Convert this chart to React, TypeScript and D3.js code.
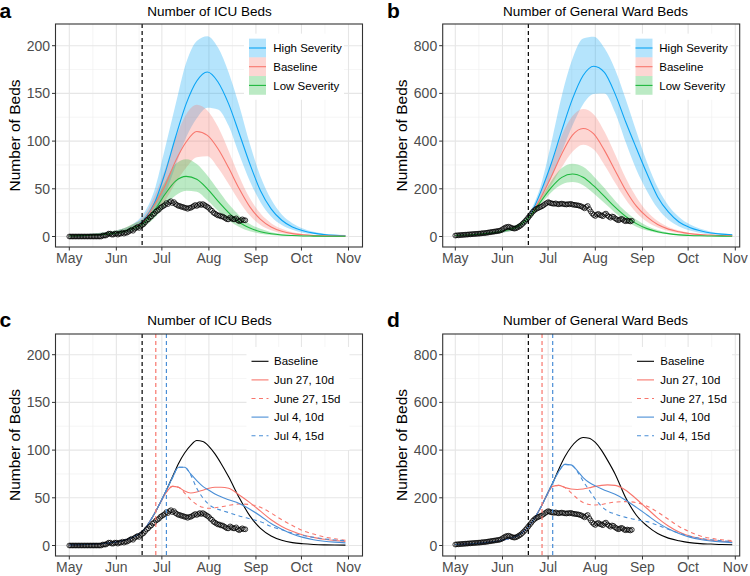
import React from "react";
import * as d3 from "d3";

const FONT = "'Liberation Sans', Arial, Helvetica, sans-serif";
const MAY1 = Date.UTC(2020, 4, 1);
const NOV1 = Date.UTC(2020, 10, 1);
const DAY = 864e5;
const toDate = (d: number) => new Date(MAY1 + d * DAY);

// ---------- data (days counted from May 1) ----------
const weekDays = [0, 7, 14, 21, 28, 35, 42, 49, 56, 63, 70, 77, 84, 91, 98, 105, 112, 119, 126, 133, 140, 147, 154, 161, 168, 175, 182];

const icuHighMid = [0.6, 0.9, 1.3, 2, 3, 5, 9, 17, 34.5, 66, 104, 139, 163, 172.5, 162, 139, 108, 76, 48, 29, 17, 10, 6, 3.5, 2, 1.2, 0.8];
const icuHighUp = [1.5, 2, 2.8, 4, 5.5, 8, 13, 24, 48, 92, 138, 182, 205, 210, 198, 172, 137, 97, 63, 39, 23, 14, 8.5, 5, 3, 2, 1.5];
const icuHighLo = [0.2, 0.3, 0.5, 0.9, 1.5, 3, 6, 12, 24, 44, 74, 104, 124, 135, 133, 116, 86, 58, 36, 21, 12, 7, 4, 2.3, 1.3, 0.8, 0.5];
const icuBaseMid = [0.6, 0.9, 1.3, 2, 3, 5, 9, 16, 33, 53, 79, 99, 110, 106, 92, 72, 50, 31, 18, 10, 5.5, 3, 1.8, 1.1, 0.7, 0.5, 0.4];
const icuBaseUp = [1.5, 2, 2.8, 4, 5.5, 8, 13, 21, 42, 70, 103, 128, 138, 132, 115, 90, 63, 40, 24, 14, 8, 4.5, 2.7, 1.6, 1, 0.8, 0.6];
const icuBaseLo = [0.2, 0.3, 0.5, 0.9, 1.5, 3, 6, 11, 23, 37, 56, 72, 83, 84, 72, 55, 37, 22, 12, 6.5, 3.5, 2, 1, 0.6, 0.4, 0.3, 0.2];
const icuLowMid = [0.6, 0.9, 1.3, 2, 3, 5, 9, 14, 27, 44, 58, 63, 60, 50, 37, 25, 15, 9, 5, 2.8, 1.6, 1, 0.6, 0.4, 0.3, 0.2, 0.2];
const icuLowUp = [1.5, 2, 2.8, 4, 5.5, 8, 13, 19, 36, 57, 76, 81, 76, 64, 49, 34, 22, 13, 8, 4.5, 2.5, 1.5, 1, 0.7, 0.5, 0.4, 0.3];
const icuLowLo = [0.2, 0.3, 0.5, 0.9, 1.5, 3, 6, 10, 19, 32, 43, 48, 47, 38, 27, 17, 10, 5.5, 3, 1.6, 0.9, 0.5, 0.3, 0.2, 0.1, 0.1, 0.1];

const wardHighMid = [4, 6, 9, 13, 19, 28, 45, 88, 185, 305, 445, 577, 675, 714, 688, 598, 480, 370, 263, 166, 103, 61, 38, 24, 15, 10, 7];
const wardHighUp = [6, 8, 12, 17, 25, 36, 56, 105, 210, 390, 590, 745, 830, 838, 790, 700, 575, 440, 310, 205, 130, 82, 51, 32, 20, 13, 9];
const wardHighLo = [3, 4, 6, 9, 14, 21, 36, 72, 160, 245, 355, 465, 555, 598, 600, 520, 395, 280, 190, 118, 70, 42, 25, 15, 9, 6, 4];
const wardBaseMid = [4, 6, 9, 13, 19, 28, 45, 86, 160, 250, 347, 425, 453, 430, 361, 277, 194, 127, 82, 50, 31, 20, 12, 8, 6, 4, 3];
const wardBaseUp = [6, 8, 12, 17, 25, 36, 56, 100, 180, 305, 425, 505, 535, 512, 440, 345, 245, 165, 105, 65, 40, 25, 15, 10, 7, 5, 4];
const wardBaseLo = [3, 4, 6, 9, 14, 21, 36, 72, 142, 215, 290, 355, 385, 365, 300, 225, 155, 100, 62, 38, 23, 14, 9, 6, 4, 3, 2];
const wardLowMid = [4, 6, 9, 13, 19, 28, 45, 84, 145, 205, 248, 262, 248, 212, 168, 123, 84, 54, 33, 20, 12, 7, 4.5, 3, 2, 1.5, 1];
const wardLowUp = [6, 8, 12, 17, 25, 36, 56, 95, 158, 232, 287, 305, 292, 252, 203, 150, 105, 70, 44, 27, 16, 10, 6, 4, 3, 2, 1.5];
const wardLowLo = [3, 4, 6, 9, 14, 21, 36, 74, 132, 185, 218, 228, 215, 180, 140, 100, 66, 41, 25, 15, 9, 5, 3, 2, 1.5, 1, 0.7];

const scenDays = [0, 7, 14, 21, 28, 35, 42, 49, 56, 60, 64, 68, 72, 76, 80, 84, 88, 92, 96, 100, 105, 112, 119, 126, 133, 140, 147, 154, 161, 168, 175, 182];

const icuScenBase = [0.6, 0.9, 1.3, 2, 3, 5, 9, 16, 33, 45, 58, 72, 86, 97, 105, 110, 109, 104, 96, 86, 72, 50, 31, 18, 10, 5.5, 3, 1.8, 1.1, 0.7, 0.5, 0.4];
const icuJun27d10 = [0.6, 0.9, 1.3, 2, 3, 5, 9, 16, 33, 45, 56, 62, 61, 57, 55, 56, 58, 60, 61, 61, 60, 53, 45, 36, 27, 20, 15, 11, 8.5, 6.5, 5.3, 4.3];
const icuJun27d15 = [0.6, 0.9, 1.3, 2, 3, 5, 9, 16, 33, 45, 56, 62, 61, 55, 48, 43, 40, 39, 39.5, 40.5, 42, 43.5, 43, 40, 34, 27, 21, 15.5, 12, 9, 7, 5.5];
const icuJul4d10 = [0.6, 0.9, 1.3, 2, 3, 5, 9, 16, 33, 45, 58, 71, 82, 82, 75, 68, 62, 58, 54, 51, 48, 44, 38, 31, 23, 17, 12, 8.5, 6, 4.5, 3.5, 2.8];
const icuJul4d15 = [0.6, 0.9, 1.3, 2, 3, 5, 9, 16, 33, 45, 58, 71, 82, 82, 74, 60, 50, 43, 39, 37, 34.5, 31, 28, 25, 20, 16.5, 13, 10.5, 8.5, 7, 5.8, 5];

const wardScenBase = [4, 6, 9, 13, 19, 28, 45, 86, 158, 210, 262, 320, 372, 412, 440, 453, 450, 432, 400, 358, 300, 200, 127, 82, 50, 31, 20, 12, 8, 6, 4, 3];
const wardJun27d10 = [4, 6, 9, 13, 19, 28, 45, 86, 158, 210, 248, 252, 243, 237, 235, 237, 242, 248, 252, 254, 252, 232, 195, 155, 115, 82, 57, 40, 29, 22, 18, 15];
const wardJun27d15 = [4, 6, 9, 13, 19, 28, 45, 86, 158, 210, 248, 252, 243, 222, 198, 180, 172, 170, 172, 177, 182, 184, 180, 165, 140, 110, 80, 57, 40, 30, 24, 21];
const wardJul4d10 = [4, 6, 9, 13, 19, 28, 45, 86, 158, 210, 262, 310, 340, 338, 315, 285, 264, 250, 238, 227, 215, 190, 160, 128, 96, 70, 50, 35, 25, 19, 15, 12];
const wardJul4d15 = [4, 6, 9, 13, 19, 28, 45, 86, 158, 210, 262, 310, 340, 338, 312, 270, 232, 195, 165, 145, 132, 118, 108, 100, 85, 68, 52, 39, 30, 24, 20, 17];

// observed, daily from May 1
const icuObs = [
  0, 0, 0, 0, 0, 0, 0, 0, 0, 0, 0, 0, 0, 0, 0, 0, 0, 0, 0, 0, 0, 0, 1, 1, 1,
  2, 3, 3, 2, 2, 3, 3, 2, 3, 3, 4, 3, 4,
  4, 5, 6, 7, 6, 8, 9, 10, 9, 11, 12,
  13, 15, 17, 18, 20, 21, 23, 24, 26, 27, 28, 30,
  31, 32, 33, 35, 34, 36, 37, 35, 36, 34, 33, 32,
  32, 31, 31, 30, 30, 29, 30, 30, 31, 32, 33, 32, 33, 34, 33, 34, 33, 32, 31, 30,
  28, 27, 25, 24, 23, 22, 22, 21, 21, 20, 19, 18, 18, 20, 19, 18, 18, 19, 17, 16, 17, 18, 17, 17,
];
const wardObs = [
  4, 5, 5, 6, 6, 7, 7, 8, 8, 9, 9, 10, 10, 11, 11, 12, 12, 13, 14, 14, 15, 16, 17, 18, 19, 20, 21, 22, 23, 24, 26,
  30, 34, 38, 40, 41, 39, 36, 34, 33, 35, 38, 42, 46,
  52, 58, 65, 72, 80, 88, 96, 104, 110, 115, 118, 121, 124, 127, 131, 136, 140,
  144, 142, 139, 138, 137, 139, 136, 135, 137, 138, 136, 135, 134, 136, 135, 137, 134, 133, 132, 131, 130, 128, 126, 122, 118, 124, 128, 115, 105, 96, 90,
  86, 92, 95, 90, 88, 85, 93, 96, 88, 83, 79, 84, 82, 76, 72, 68, 70, 74, 72, 66, 64, 67, 65, 63, 66,
];

const icuTicks = [0, 50, 100, 150, 200];
const wardTicks = [0, 200, 400, 600, 800];
const bandNames = ["High Severity", "Baseline", "Low Severity"];
const scenNames = ["Baseline", "Jun 27, 10d", "June 27, 15d", "Jul 4, 10d", "Jul 4, 15d"];
const refDay = 48; // Jun 18
const jun27Day = 57;
const jul4Day = 64;

// ---------- styles ----------
const HIGH = "#0AA4F5";
const BASE = "#F8766D";
const LOW = "#1DB83D";
const SBLUE = "#4A8ED6";

type Geo = {
  left: number; right: number; top: number; bottom: number;
  xMay: number; xNov: number; y0: number; yRef: number; refVal: number;
  letter: string; letterX: number; letterY: number;
  title: string; titleX: number; titleY: number; labelX: number;
  legX: number; legTextX: number; legY: number; legW: number;
};

function scales(g: Geo) {
  const x = d3.scaleUtc().domain([new Date(MAY1), new Date(NOV1)]).range([g.xMay, g.xNov]);
  const y = d3.scaleLinear().domain([0, g.refVal]).range([g.y0, g.yRef]);
  return { x, y };
}

function Background({ g, x, y, ticks }: any) {
  const months = d3.utcMonth.range(new Date(MAY1), new Date(NOV1 + DAY));
  const xMaj = months.map((m) => x(m));
  const xMin = xMaj.slice(1).map((v, i) => (v + xMaj[i]) / 2);
  const step = ticks[1] - ticks[0];
  const yMin = ticks.slice(1).map((t: number) => y(t - step / 2));
  const yMaj = ticks.map((t: number) => y(t));
  return (
    <g>
      <rect x={g.left} y={g.top} width={g.right - g.left} height={g.bottom - g.top} fill="#fff" />
      {xMin.map((v, i) => <line key={"xn" + i} x1={v} x2={v} y1={g.top} y2={g.bottom} stroke="#EFEFEF" strokeWidth={0.6} />)}
      {yMin.map((v: number, i: number) => <line key={"yn" + i} x1={g.left} x2={g.right} y1={v} y2={v} stroke="#EFEFEF" strokeWidth={0.6} />)}
      {xMaj.map((v, i) => <line key={"xj" + i} x1={v} x2={v} y1={g.top} y2={g.bottom} stroke="#E6E6E6" strokeWidth={1.1} />)}
      {yMaj.map((v: number, i: number) => <line key={"yj" + i} x1={g.left} x2={g.right} y1={v} y2={v} stroke="#E6E6E6" strokeWidth={1.1} />)}
    </g>
  );
}

function Frame({ g, x, y, ticks }: any) {
  const months = d3.utcMonth.range(new Date(MAY1), new Date(NOV1 + DAY));
  const fmt = d3.utcFormat("%b");
  return (
    <g fontFamily={FONT}>
      <rect x={g.left} y={g.top} width={g.right - g.left} height={g.bottom - g.top} fill="none" stroke="#333" strokeWidth={1.1} />
      {months.map((m, i) => (
        <g key={"xt" + i}>
          <line x1={x(m)} x2={x(m)} y1={g.bottom} y2={g.bottom + 3.5} stroke="#333" strokeWidth={1} />
          <text x={x(m)} y={g.bottom + 16} textAnchor="middle" fontSize={14} fill="#4D4D4D">{fmt(m)}</text>
        </g>
      ))}
      {ticks.map((t: number, i: number) => (
        <g key={"yt" + i}>
          <line x1={g.left - 3.5} x2={g.left} y1={y(t)} y2={y(t)} stroke="#333" strokeWidth={1} />
          <text x={g.left - 5.5} y={y(t)} dy="0.36em" textAnchor="end" fontSize={14} fill="#4D4D4D">{t}</text>
        </g>
      ))}
      <text x={g.titleX} y={g.titleY} textAnchor="middle" fontSize={13.5} fill="#000">{g.title}</text>
      <text transform={`translate(${g.labelX},${(g.top + g.bottom) / 2}) rotate(-90)`} textAnchor="middle" fontSize={15.5} fill="#000">Number of Beds</text>
      <text x={g.letterX} y={g.letterY} fontSize={21} fontWeight="bold" fill="#000">{g.letter}</text>
    </g>
  );
}

function Observed({ x, y, obs }: any) {
  return (
    <g>
      {obs.map((v: number, i: number) => (
        <circle key={i} cx={x(toDate(i))} cy={y(v)} r={2.4} fill="none" stroke="#000" strokeWidth={0.75} />
      ))}
    </g>
  );
}

function VLine({ g, x, day, color }: any) {
  const xv = x(toDate(day));
  return <line x1={xv} x2={xv} y1={g.top} y2={g.bottom} stroke={color} strokeWidth={1.2} strokeDasharray="4,3" />;
}

function BandPanel({ g, ticks, series, obs }: any) {
  const { x, y } = scales(g);
  const area = d3.area<number>()
    .x((_, i) => x(toDate(weekDays[i])))
    .curve(d3.curveMonotoneX);
  const line = d3.line<number>()
    .x((_, i) => x(toDate(weekDays[i])))
    .y((v) => y(v))
    .curve(d3.curveMonotoneX);
  const rowH = 18.7;
  return (
    <g>
      <Background g={g} x={x} y={y} ticks={ticks} />
      {series.map((s: any, k: number) => (
        <path key={"b" + k} d={area.y0((_, i) => y(s.lo[i])).y1((v) => y(v))(s.up) || ""} fill={s.color} fillOpacity={0.3} />
      ))}
      {series.map((s: any, k: number) => (
        <path key={"l" + k} d={line(s.mid) || ""} fill="none" stroke={s.color} strokeWidth={1.1} />
      ))}
      <Observed x={x} y={y} obs={obs} />
      <VLine g={g} x={x} day={refDay} color="#000" />
      <rect x={g.legX - 5} y={g.legY - rowH / 2 - 5} width={g.legW} height={rowH * series.length + 10} fill="#fff" />
      {series.map((s: any, k: number) => {
        const cy = g.legY + k * rowH;
        return (
          <g key={"lg" + k}>
            <rect x={g.legX} y={cy - rowH / 2} width={17} height={rowH} fill={s.color} fillOpacity={0.3} />
            <line x1={g.legX} x2={g.legX + 17} y1={cy} y2={cy} stroke={s.color} strokeWidth={1.1} />
            <text x={g.legTextX} y={cy} dy="0.36em" fontFamily={FONT} fontSize={11.5} fill="#000">{s.name}</text>
          </g>
        );
      })}
      <Frame g={g} x={x} y={y} ticks={ticks} />
    </g>
  );
}

function ScenPanel({ g, ticks, series, obs }: any) {
  const { x, y } = scales(g);
  const line = d3.line<number>()
    .x((_, i) => x(toDate(scenDays[i])))
    .y((v) => y(v))
    .curve(d3.curveMonotoneX);
  const rowH = 18.6;
  return (
    <g>
      <Background g={g} x={x} y={y} ticks={ticks} />
      {series.map((s: any, k: number) => (
        <path key={"l" + k} d={line(s.values) || ""} fill="none" stroke={s.color} strokeWidth={1.1} strokeDasharray={s.dash ? "4,3.5" : undefined} />
      ))}
      <Observed x={x} y={y} obs={obs} />
      <VLine g={g} x={x} day={refDay} color="#000" />
      <VLine g={g} x={x} day={jun27Day} color={BASE} />
      <VLine g={g} x={x} day={jul4Day} color={SBLUE} />
      <rect x={g.legX - 5} y={g.legY - rowH / 2 - 5} width={g.legW} height={rowH * series.length + 10} fill="#fff" />
      {series.map((s: any, k: number) => {
        const cy = g.legY + k * rowH;
        return (
          <g key={"lg" + k}>
            <line x1={g.legX} x2={g.legX + 17} y1={cy} y2={cy} stroke={s.color} strokeWidth={1.1} strokeDasharray={s.dash ? "4,3.5" : undefined} />
            <text x={g.legTextX} y={cy} dy="0.36em" fontFamily={FONT} fontSize={11.5} fill="#000">{s.name}</text>
          </g>
        );
      })}
      <Frame g={g} x={x} y={y} ticks={ticks} />
    </g>
  );
}

const gA: Geo = {
  left: 55.5, right: 362.5, top: 24, bottom: 247, xMay: 69.3, xNov: 348.5, y0: 236.5, yRef: 45.7, refVal: 200,
  letter: "a", letterX: -0.5, letterY: 18.3, title: "Number of ICU Beds", titleX: 209.5, titleY: 16, labelX: 19.5,
  legX: 249, legTextX: 273.3, legY: 48, legW: 100,
};
const gB: Geo = {
  left: 442.7, right: 739.7, top: 24, bottom: 247, xMay: 455.3, xNov: 735.3, y0: 236.5, yRef: 45.7, refVal: 800,
  letter: "b", letterX: 387, letterY: 18.3, title: "Number of General Ward Beds", titleX: 595.5, titleY: 16, labelX: 406.5,
  legX: 635.5, legTextX: 659.3, legY: 48, legW: 100,
};
const gC: Geo = {
  left: 55.5, right: 362.5, top: 334, bottom: 556, xMay: 69.3, xNov: 348.5, y0: 545.5, yRef: 354.7, refVal: 200,
  letter: "c", letterX: -0.5, letterY: 327, title: "Number of ICU Beds", titleX: 209.5, titleY: 325, labelX: 19.5,
  legX: 251.5, legTextX: 274, legY: 361.3, legW: 103,
};
const gD: Geo = {
  left: 442.7, right: 739.7, top: 334, bottom: 556, xMay: 455.3, xNov: 735.3, y0: 545.5, yRef: 354.7, refVal: 800,
  letter: "d", letterX: 387, letterY: 327, title: "Number of General Ward Beds", titleX: 595.5, titleY: 325, labelX: 406.5,
  legX: 637, legTextX: 660.3, legY: 361.3, legW: 100,
};

export default function App() {
  const icuBands = [
    { name: bandNames[0], color: HIGH, mid: icuHighMid, up: icuHighUp, lo: icuHighLo },
    { name: bandNames[1], color: BASE, mid: icuBaseMid, up: icuBaseUp, lo: icuBaseLo },
    { name: bandNames[2], color: LOW, mid: icuLowMid, up: icuLowUp, lo: icuLowLo },
  ];
  const wardBands = [
    { name: bandNames[0], color: HIGH, mid: wardHighMid, up: wardHighUp, lo: wardHighLo },
    { name: bandNames[1], color: BASE, mid: wardBaseMid, up: wardBaseUp, lo: wardBaseLo },
    { name: bandNames[2], color: LOW, mid: wardLowMid, up: wardLowUp, lo: wardLowLo },
  ];
  const icuScen = [
    { name: scenNames[0], color: "#000", dash: false, values: icuScenBase },
    { name: scenNames[1], color: BASE, dash: false, values: icuJun27d10 },
    { name: scenNames[2], color: BASE, dash: true, values: icuJun27d15 },
    { name: scenNames[3], color: SBLUE, dash: false, values: icuJul4d10 },
    { name: scenNames[4], color: SBLUE, dash: true, values: icuJul4d15 },
  ];
  const wardScen = [
    { name: scenNames[0], color: "#000", dash: false, values: wardScenBase },
    { name: scenNames[1], color: BASE, dash: false, values: wardJun27d10 },
    { name: scenNames[2], color: BASE, dash: true, values: wardJun27d15 },
    { name: scenNames[3], color: SBLUE, dash: false, values: wardJul4d10 },
    { name: scenNames[4], color: SBLUE, dash: true, values: wardJul4d15 },
  ];
  return (
    <svg width={750} height={576} style={{ position: "absolute", left: 0, top: 0, background: "#fff" }}>
      <rect x={0} y={0} width={750} height={576} fill="#fff" />
      <BandPanel g={gA} ticks={icuTicks} series={icuBands} obs={icuObs} />
      <BandPanel g={gB} ticks={wardTicks} series={wardBands} obs={wardObs} />
      <ScenPanel g={gC} ticks={icuTicks} series={icuScen} obs={icuObs} />
      <ScenPanel g={gD} ticks={wardTicks} series={wardScen} obs={wardObs} />
    </svg>
  );
}
